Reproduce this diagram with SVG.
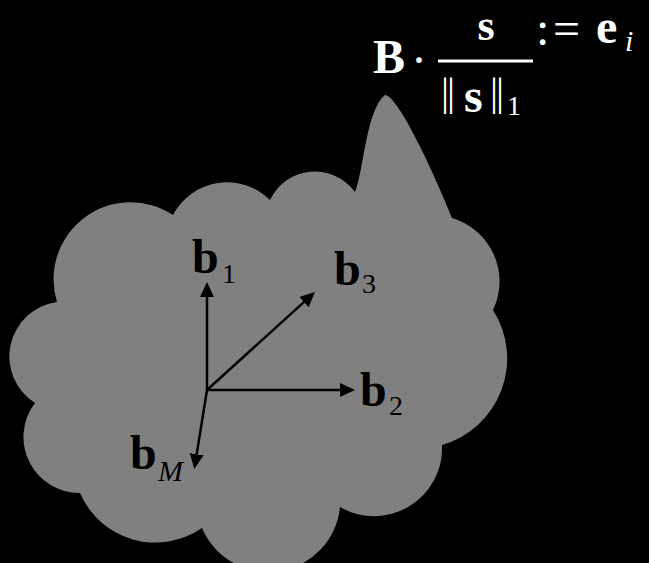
<svg xmlns="http://www.w3.org/2000/svg" width="649" height="563" viewBox="0 0 649 563">
<defs>
<style>
.math{font-family:"Liberation Serif","DejaVu Serif",serif;font-size:48px}
.b{font-weight:bold}
.sub{font-size:28px;font-weight:normal}
.it{font-style:italic}
.bar{font-size:40px}
.white{fill:#ffffff}
.black{fill:#000000}
.vec{stroke:#000;stroke-width:2.5;fill:none;marker-end:url(#ah)}
</style>
<marker id="ah" markerUnits="userSpaceOnUse" markerWidth="16" markerHeight="14" refX="10" refY="7" orient="auto">
<path d="M0,0 L15,7 L0,14 z" fill="#000"/>
</marker>
</defs>
<rect width="649" height="563" fill="#000"/>
<g id="cloud">
<path d="M355,192 C364,170 366,110 385,95 C398,95 435,175 452,218 A66,66 0 0 1 493,310 A90,90 0 0 1 442,445 A68,68 0 0 1 340,507 A72,72 0 0 1 202,528 A82,82 0 0 1 80,493 A56,56 0 0 1 35,403 A55,55 0 0 1 57,302 A77,77 0 0 1 173,215 A61,61 0 0 1 270,200 A49.5,49.5 0 0 1 355,192 Z" fill="#808080"/>
</g>
<g id="formula" class="math white">
<text x="373" y="73" class="b">B</text>
<text x="419" y="76" text-anchor="middle">·</text>
<line x1="438" y1="61" x2="533" y2="61" stroke="#fff" stroke-width="3"/>
<text x="486" y="40" class="b" text-anchor="middle" style="font-size:44px">s</text>
<text x="441" y="105" class="bar" letter-spacing="-2">||</text>
<text x="464" y="112" class="b">s</text>
<text x="490" y="105" class="bar" letter-spacing="-2">||</text>
<text x="507" y="115" class="sub">1</text>
<text x="536" y="45">:</text>
<text x="553" y="45">=</text>
<text x="596" y="43" class="b">e</text>
<text x="625" y="51" class="sub it" style="font-size:30px">i</text>
</g>
<g id="connectors">
<line class="vec" x1="207" y1="390" x2="207" y2="287"/>
<line class="vec" x1="207" y1="390" x2="350" y2="390"/>
<line class="vec" x1="207" y1="390" x2="311.3" y2="295.4"/>
<line class="vec" x1="207" y1="390" x2="195.1" y2="464.1"/>
</g>
<g id="b1" class="math black"><text x="192" y="273" class="b">b</text><text x="222" y="283" class="sub">1</text></g>
<g id="b3" class="math black"><text x="334" y="285" class="b">b</text><text x="362" y="293" class="sub">3</text></g>
<g id="b2" class="math black"><text x="360" y="406" class="b">b</text><text x="389" y="415" class="sub">2</text></g>
<g id="bM" class="math black"><text x="130" y="469" class="b">b</text><text x="158" y="481" class="sub it" style="font-size:30px">M</text></g>
</svg>
